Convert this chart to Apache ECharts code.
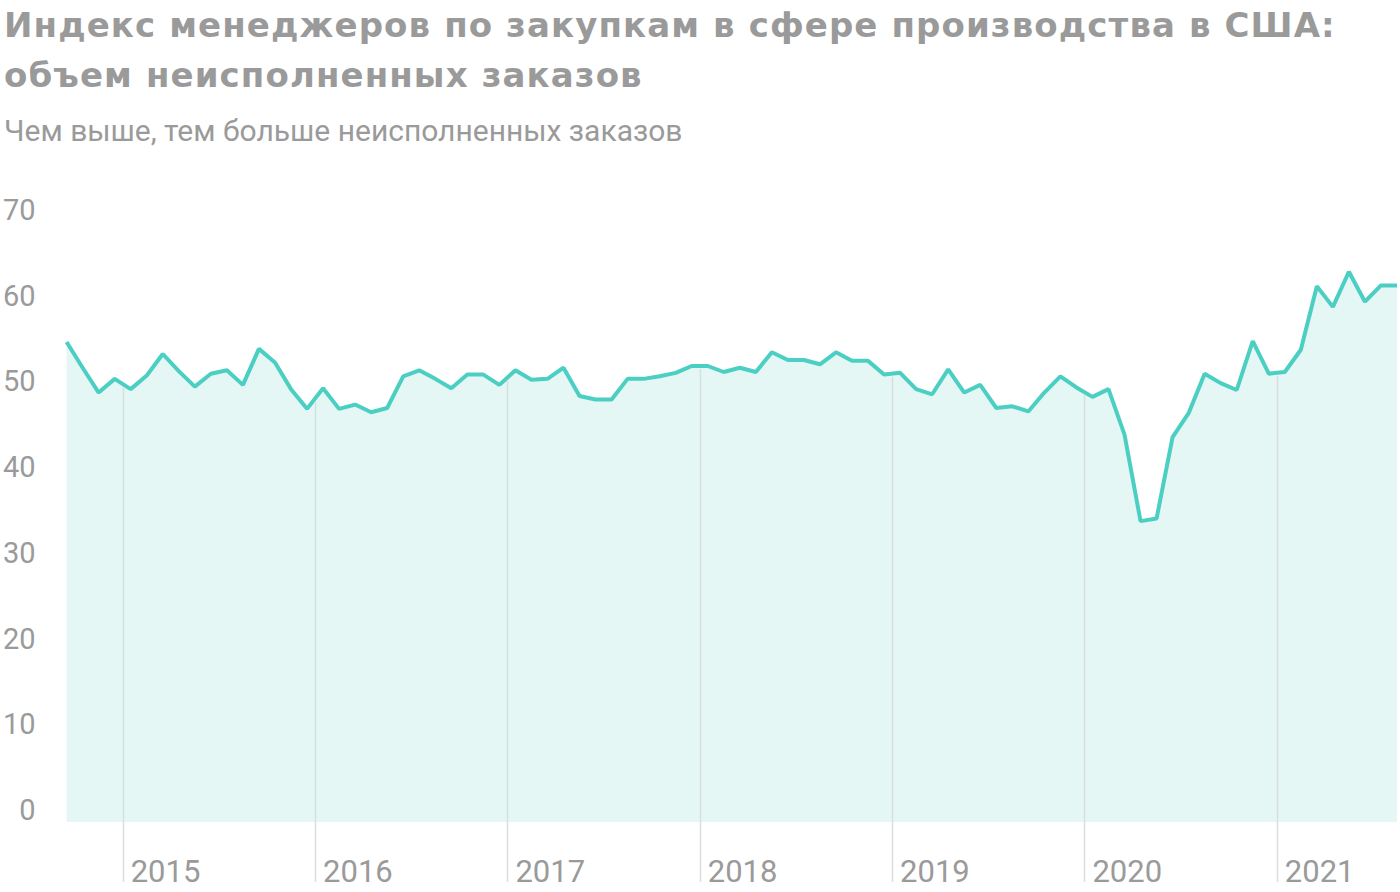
<!DOCTYPE html>
<html>
<head>
<meta charset="utf-8">
<script src="https://cdn.jsdelivr.net/npm/echarts@6/dist/echarts.min.js"></script>
<style>
html,body{margin:0;padding:0;background:#fff;}
#chart{width:1400px;height:892px;}
#chart svg text[style*="bold"], #chart svg text[font-weight="bold"] { letter-spacing: 1.1px; }
</style>
</head>
<body>
<div id="chart"></div>
<script>
// Monthly values, September 2014 – August 2021
const startYear = 2014;
const startMonth = 9;
const values2014 = [56.0, 53.0, 50.1, 51.7];
const values2015 = [50.5, 52.1, 54.6, 52.6, 50.8, 52.3, 52.7, 51.0, 55.2, 53.6, 50.5, 48.2];
const values2016 = [50.6, 48.2, 48.7, 47.8, 48.3, 52.0, 52.7, 51.7, 50.6, 52.2, 52.2, 51.0];
const values2017 = [52.7, 51.6, 51.7, 53.0, 49.7, 49.3, 49.3, 51.7, 51.7, 52.0, 52.4, 53.2];
const values2018 = [53.2, 52.5, 53.0, 52.5, 54.8, 53.9, 53.9, 53.4, 54.8, 53.8, 53.8, 52.2];
const values2019 = [52.4, 50.5, 49.9, 52.8, 50.1, 51.0, 48.3, 48.5, 47.9, 50.1, 52.0, 50.7];
const values2020 = [49.6, 50.5, 45.2, 35.1, 35.4, 44.9, 47.7, 52.3, 51.2, 50.4, 56.1, 52.3];
const values2021 = [52.5, 55.1, 62.5, 60.1, 64.2, 60.7, 62.6, 62.6];
const yearLabels = ['2015', '2016', '2017', '2018', '2019', '2020', '2021'];
const yTicks = [0, 10, 20, 30, 40, 50, 60, 70];

const values = [].concat(values2014, values2015, values2016, values2017, values2018, values2019, values2020, values2021);
// x = month index (mid-month); 1 January of a year lies half a month before its January point
const seriesData = values.map((v, i) => [i, v]);
const boundaries = yearLabels.map(y => (Number(y) * 12 + 1) - (startYear * 12 + startMonth) - 0.5);
function valueAt(x) {
  const a = Math.floor(x), b = Math.ceil(x);
  return values[a] + (values[b] - values[a]) * (x - a);
}

const gray = '#9a9a9a';
const chart = echarts.init(document.getElementById('chart'), null, {renderer: 'svg'});
chart.setOption({
  animation: false,
  backgroundColor: '#fff',
  title: [{
    text: 'Индекс менеджеров по закупкам в сфере производства в США:\nобъем неисполненных заказов',
    left: -1, top: -5,
    textStyle: {fontFamily: 'DejaVu Sans', fontWeight: 'bold', fontSize: 34, lineHeight: 50, color: gray}
  }, {
    text: 'Чем выше, тем больше неисполненных заказов',
    left: -1, top: 107,
    textStyle: {fontFamily: 'Roboto', fontWeight: 'normal', fontSize: 30, lineHeight: 36, color: gray}
  }],
  grid: {left: 66, right: 3, top: 222, bottom: 70, containLabel: false},
  xAxis: {
    type: 'value', min: 0, max: values.length - 1,
    axisLine: {show: false}, axisTick: {show: false}, splitLine: {show: false},
    axisLabel: {
      customValues: boundaries,
      formatter: (v) => yearLabels[boundaries.findIndex(b => Math.abs(b - v) < 1e-6)],
      align: 'left', margin: 34, padding: [0, 0, 0, 8],
      fontFamily: 'Roboto', fontSize: 31, color: gray
    }
  },
  yAxis: {
    type: 'value', min: yTicks[0], max: yTicks[yTicks.length - 1], interval: 10,
    axisLine: {show: false}, axisTick: {show: false}, splitLine: {show: false},
    axisLabel: {
      margin: 31, align: 'right', verticalAlign: 'bottom', lineHeight: 24,
      fontFamily: 'Roboto', fontSize: 29, color: gray
    }
  },
  series: [{
    type: 'line', data: seriesData, symbol: 'none', z: 2,
    lineStyle: {color: '#4ccfc3', width: 4},
    areaStyle: {color: '#e4f7f5', opacity: 1}
  }, {
    type: 'custom', z: 3, clip: false,
    data: boundaries.map(b => [b, valueAt(b)]),
    renderItem: function (params, api) {
      const top = api.coord([api.value(0), api.value(1)]);
      const bottom = api.coord([api.value(0), 0]);
      return {
        type: 'line',
        shape: {x1: Math.round(top[0]) + 0.5, y1: top[1] + 3, x2: Math.round(top[0]) + 0.5, y2: bottom[1] + 62},
        style: {stroke: '#d8dfdf', lineWidth: 1.5}
      };
    }
  }],
  graphic: [{
    type: 'rect', left: 0, top: 882, z: 100,
    shape: {width: 1400, height: 10}, style: {fill: '#fff'}
  }]
});
</script>
</body>
</html>
